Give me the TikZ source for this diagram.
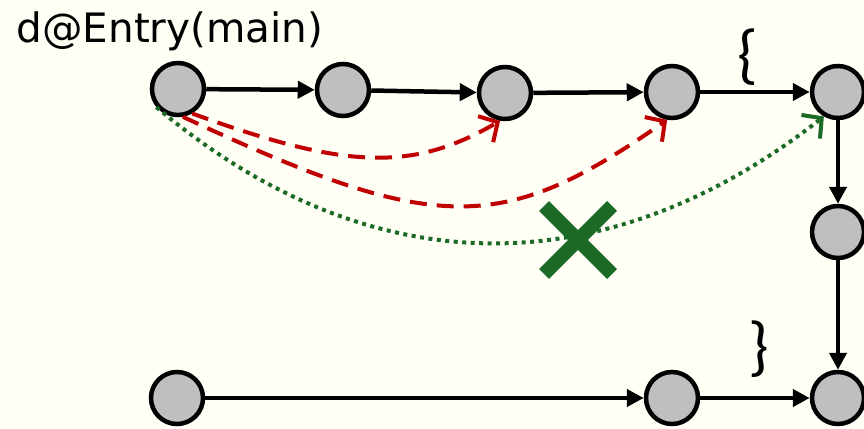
\documentclass[tikz,border=0pt]{standalone}
\usepackage{fontspec}
\setmainfont{DejaVu Sans}
\newfontfamily\bracefont{Carlito}
\usepackage{xcolor}
\usepackage{tikz}
\usetikzlibrary{arrows.meta, positioning, calc}

\definecolor{paper}{HTML}{FFFFF6}
\definecolor{nodegray}{HTML}{BFBFBF}
\definecolor{callred}{HTML}{C00000}
\definecolor{callgreen}{HTML}{1B6B26}

\tikzset{
  block/.style={circle, draw=black, line width=4.5pt, fill=nodegray, minimum size=52pt, inner sep=0pt},
  flow/.style={-{Triangle[length=17pt,width=17pt]}, line width=4.5pt},
  redcall/.style={-{Straight Barb[length=14pt,width=30pt,line width=4pt]}, callred, line width=4pt, dash pattern=on 17pt off 10pt},
  greencall/.style={-{Straight Barb[length=14pt,width=30pt,line width=4pt]}, callgreen, line width=4pt, dash pattern=on 4pt off 4.5pt},
  brace/.style={font=\bracefont\fontsize{66}{70}\selectfont, inner sep=0pt}
}

\begin{document}
\begin{tikzpicture}[x=1pt, y=-1pt]
\fill[paper] (0,0) rectangle (864,428);
\useasboundingbox (0,0) rectangle (864,428);

\node[font=\fontsize{40.5}{46}\selectfont, inner sep=0pt, anchor=base] (entrylabel) at (170,42) {d@Entry(main)};

% top row
\node[block] (n1) at (178,89) {};
\node[block] (n2) at (343,90) {};
\node[block] (n3) at (505,93) {};
\node[block] (n4) at (672,92) {};
\node[block] (n5) at (838,92) {};
% right column
\node[block] (n6) at (838,232) {};
\node[block] (n7) at (838,398) {};
% bottom row
\node[block] (b1) at (177,398) {};
\node[block] (b2) at (672,398) {};

\node[brace] (openbrace) at (748,57) {\{};
\node[brace] (closebrace) at (759,349) {\}};

\draw[flow] (n1) -- (n2);
\draw[flow] (n2) -- (n3);
\draw[flow] (n3) -- (n4);
\draw[flow] (n4) -- (n5);
\draw[flow] (n5) -- (n6);
\draw[flow] (n6) -- (n7);
\draw[flow] (b1) -- (b2);
\draw[flow] (b2) -- (n7);

% calls that skip nodes
\draw[redcall] (n1.-60) .. controls +(154,56) and +(-88,51) .. (n3.-100);
\draw[redcall] (n1.-80) .. controls +(253,118) and +(-166,116) .. (n4.-100);
\draw[greencall] (n1.-140) .. controls +(220,185) and +(-211,165) .. (n5.-120);

% blocked call
\coordinate (cross) at (578,240);
\draw[callgreen, line width=14pt] (cross) ++(-34,-34) -- ++(68,68);
\draw[callgreen, line width=14pt] (cross) ++(34,-34) -- ++(-68,68);
\end{tikzpicture}
\end{document}
